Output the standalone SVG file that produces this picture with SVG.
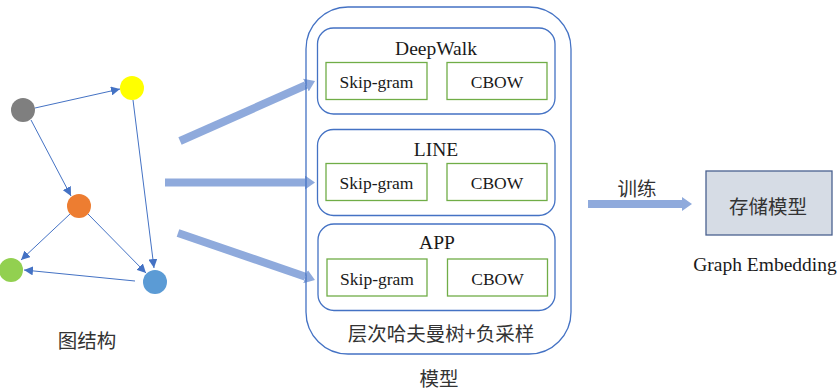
<svg xmlns="http://www.w3.org/2000/svg" width="840" height="392" viewBox="0 0 840 392">
<defs>
<style>
.edge{stroke:#4472C4;stroke-width:1;fill:none}
.big{stroke:#8FAADC;stroke-width:8;fill:none}
.outer{fill:none;stroke:#4472C4;stroke-width:1.3}
.inner{fill:#fff;stroke:#4472C4;stroke-width:1.3}
.grn{fill:#fff;stroke:#70AD47;stroke-width:1.3}
.en{font-family:"Liberation Serif","Times New Roman",serif;fill:#1a1a1a;text-anchor:middle}
.cn{font-family:"Noto Sans CJK SC","Noto Sans",sans-serif;fill:#333;text-anchor:middle;font-size:19.5px}
.t{font-size:19.5px}
.s{font-size:17.5px}
</style>
<marker id="ah" viewBox="0 0 10 10" refX="10" refY="5" markerWidth="9" markerHeight="9" markerUnits="userSpaceOnUse" orient="auto">
<path d="M0,0 L10,5 L0,10 Z" fill="#4472C4"/>
</marker>
<marker id="bh" viewBox="0 0 10 14" refX="0" refY="7" markerWidth="10" markerHeight="14" markerUnits="userSpaceOnUse" orient="auto">
<path d="M0,0 L10,7 L0,14 Z" fill="#8FAADC"/>
</marker>
</defs>

<g id="connectors">
<line class="edge" x1="35" y1="108" x2="120" y2="89" marker-end="url(#ah)"/>
<line class="edge" x1="31" y1="120" x2="71" y2="196" marker-end="url(#ah)"/>
<line class="edge" x1="133" y1="100" x2="154" y2="268" marker-end="url(#ah)"/>
<line class="edge" x1="70" y1="214" x2="21" y2="260" marker-end="url(#ah)"/>
<line class="edge" x1="88" y1="214" x2="146" y2="273" marker-end="url(#ah)"/>
<line class="edge" x1="135" y1="281" x2="24" y2="270" marker-end="url(#ah)"/>
<line class="big" x1="180" y1="141" x2="305.9" y2="85.1" marker-end="url(#bh)"/>
<line class="big" x1="165" y1="182.5" x2="305" y2="182.5" marker-end="url(#bh)"/>
<line class="big" x1="178" y1="233" x2="305.5" y2="276.7" marker-end="url(#bh)"/>
<line class="big" x1="588" y1="204" x2="682" y2="204" marker-end="url(#bh)"/>
</g>

<g id="n-gray"><circle cx="23" cy="110" r="12" fill="#7F7F7F"/></g>
<g id="n-yellow"><circle cx="132" cy="88" r="12" fill="#FFFF00"/></g>
<g id="n-orange"><circle cx="79" cy="206" r="12" fill="#ED7D31"/></g>
<g id="n-green"><circle cx="11" cy="270" r="12" fill="#92D050"/></g>
<g id="n-blue"><circle cx="155" cy="282" r="12" fill="#5B9BD5"/></g>
<g id="lbl-graph"><text class="cn" x="87" y="347.5">图结构</text></g>

<g id="model">
<rect class="outer" x="306" y="7" width="265" height="347" rx="42"/>
<text class="cn" x="441" y="340.5">层次哈夫曼树+负采样</text>
<text class="cn" x="439" y="386">模型</text>
</g>

<g id="deepwalk">
<rect class="inner" x="317.5" y="28" width="237.5" height="86" rx="16"/>
<text class="en t" x="436" y="55">DeepWalk</text>
<g id="dw-skip"><rect class="grn" x="326" y="62.5" width="101" height="37"/><text class="en s" x="376.5" y="87.5">Skip-gram</text></g>
<g id="dw-cbow"><rect class="grn" x="447" y="62.5" width="100" height="37"/><text class="en s" x="497" y="87.5">CBOW</text></g>
</g>

<g id="line">
<rect class="inner" x="317.5" y="129.5" width="237.5" height="86" rx="16"/>
<text class="en t" x="436" y="156">LINE</text>
<g id="line-skip"><rect class="grn" x="326" y="163.5" width="101" height="37"/><text class="en s" x="376.5" y="188.5">Skip-gram</text></g>
<g id="line-cbow"><rect class="grn" x="447" y="163.5" width="100" height="37"/><text class="en s" x="497" y="188.5">CBOW</text></g>
</g>

<g id="app">
<rect class="inner" x="318" y="224" width="237" height="86.5" rx="16"/>
<text class="en t" x="437" y="248.5">APP</text>
<g id="app-skip"><rect class="grn" x="327" y="259" width="100" height="37"/><text class="en s" x="377" y="284.5">Skip-gram</text></g>
<g id="app-cbow"><rect class="grn" x="447.5" y="259" width="100" height="37"/><text class="en s" x="497.5" y="284.5">CBOW</text></g>
</g>

<g id="lbl-train"><text class="cn" x="637" y="196">训练</text></g>

<g id="store">
<rect x="706" y="171" width="126" height="64" fill="#D6DCE5" stroke="#4A6190" stroke-width="1.3"/>
<text class="cn" x="768" y="213.5">存储模型</text>
<text class="en t" x="765" y="271">Graph Embedding</text>
</g>
</svg>
